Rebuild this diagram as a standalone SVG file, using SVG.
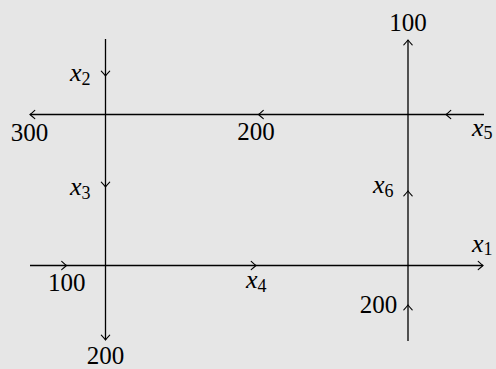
<svg xmlns="http://www.w3.org/2000/svg" width="496" height="369" viewBox="0 0 496 369">
<style>
.ln{stroke:#000;stroke-width:1.3;fill:none}
.ah{stroke:#000;stroke-width:1.1;fill:none;stroke-linecap:round}
.num{font-family:"Liberation Serif",serif;font-size:25px;fill:#000;text-anchor:middle}
.var{font-family:"Liberation Serif",serif;font-size:26px;font-style:italic;fill:#000}
.sub{font-size:18px;font-style:normal}
</style>
<defs>
<path id="arr" class="ah" d="M-4.8,-4.2 Q-1.6,-1.2 0,0 Q-1.6,1.2 -4.8,4.2"/>
</defs>
<rect width="496" height="369" fill="#e6e6e6"/>
<g id="connectors">
<line class="ln" x1="105.5" y1="39" x2="105.5" y2="340"/>
<line class="ln" x1="30" y1="114.5" x2="484" y2="114.5"/>
<line class="ln" x1="408" y1="40" x2="408" y2="341"/>
<line class="ln" x1="30" y1="265.5" x2="483" y2="265.5"/>
<use href="#arr" transform="translate(105.5,76) rotate(90)"/>
<use href="#arr" transform="translate(105.5,187) rotate(90)"/>
<use href="#arr" transform="translate(105.5,340) rotate(90)"/>
<use href="#arr" transform="translate(30,114.5) rotate(180)"/>
<use href="#arr" transform="translate(258.5,114.5) rotate(180)"/>
<use href="#arr" transform="translate(446,114.5) rotate(180)"/>
<use href="#arr" transform="translate(408,40) rotate(-90)"/>
<use href="#arr" transform="translate(408,191) rotate(-90)"/>
<use href="#arr" transform="translate(408,305) rotate(-90)"/>
<use href="#arr" transform="translate(66.5,265.5)"/>
<use href="#arr" transform="translate(256,265.5)"/>
<use href="#arr" transform="translate(483,265.5)"/>
</g>
<g id="label-100-top"><text class="num" x="408" y="30.5">100</text></g>
<g id="label-300"><text class="num" x="29.5" y="140.5">300</text></g>
<g id="label-200-mid"><text class="num" x="256" y="140">200</text></g>
<g id="label-100-left"><text class="num" x="66.7" y="291">100</text></g>
<g id="label-200-right"><text class="num" x="378.5" y="312.5">200</text></g>
<g id="label-200-bottom"><text class="num" x="105.5" y="364">200</text></g>
<g id="label-x1"><text class="var" x="472" y="251.5">x<tspan class="sub" dy="3.5">1</tspan></text></g>
<g id="label-x2"><text class="var" x="70" y="81">x<tspan class="sub" dy="3.5">2</tspan></text></g>
<g id="label-x3"><text class="var" x="70" y="195">x<tspan class="sub" dy="3.5">3</tspan></text></g>
<g id="label-x4"><text class="var" x="246" y="288">x<tspan class="sub" dy="3.5">4</tspan></text></g>
<g id="label-x5"><text class="var" x="472" y="135.5">x<tspan class="sub" dy="3.5">5</tspan></text></g>
<g id="label-x6"><text class="var" x="373" y="193">x<tspan class="sub" dy="3.5">6</tspan></text></g>
</svg>
